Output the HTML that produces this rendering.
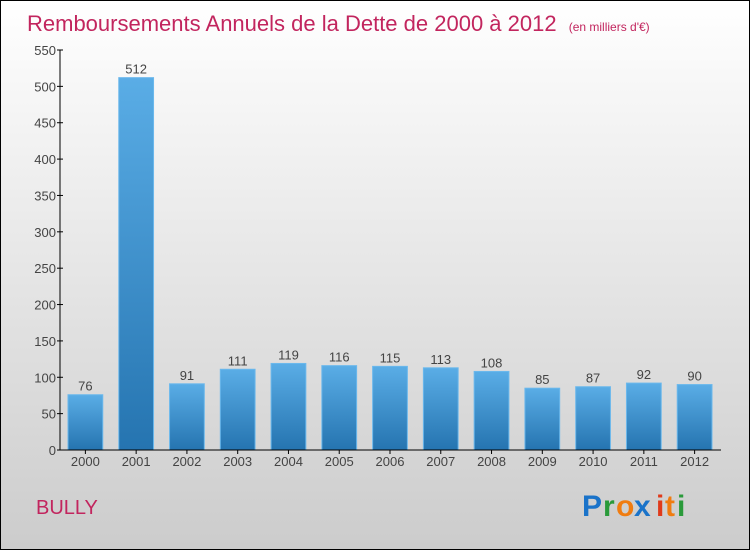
<!DOCTYPE html>
<html><head><meta charset="utf-8"><style>
html,body{margin:0;padding:0}
body{width:750px;height:550px;overflow:hidden;font-family:"Liberation Sans",sans-serif}
</style></head><body>
<svg width="750" height="550" xmlns="http://www.w3.org/2000/svg">
<defs>
<linearGradient id="bg" x1="0" y1="0" x2="0" y2="1"><stop offset="0" stop-color="#ffffff"/><stop offset="1" stop-color="#cccccc"/></linearGradient>
<linearGradient id="bar" x1="0" y1="0" x2="0" y2="1"><stop offset="0" stop-color="#5aade6"/><stop offset="1" stop-color="#2574b0"/></linearGradient>
</defs>
<rect x="0.5" y="0.5" width="749" height="549" fill="url(#bg)" stroke="#000"/>
<text x="27" y="31" font-size="22" fill="#c2255e">Remboursements Annuels de la Dette de 2000 à 2012 <tspan font-size="12" dx="6">(en milliers d'€)</tspan></text>
<g id="yaxis"></g>
<g id="bars"></g>
<g id="xaxis"></g>
<text x="36" y="514" font-size="20" fill="#c2255e">BULLY</text>
<g font-size="30" font-weight="bold">
<text x="582" y="516" fill="#1a73c9">P</text><text x="603" y="516" fill="#2a9a3a">r</text><text x="616" y="516" fill="#f07c10">o</text><text x="634" y="516" fill="#1a73c9">x</text><text x="656" y="516" fill="#e03a1a">i</text><text x="665" y="516" fill="#f07c10">t</text><text x="677" y="516" fill="#2a9a3a">i</text>
</g>
</svg>
<script>
const categories = ["2000","2001","2002","2003","2004","2005","2006","2007","2008","2009","2010","2011","2012"];
const values = [76,512,91,111,119,116,115,113,108,85,87,92,90];
const yTicks = [0,50,100,150,200,250,300,350,400,450,500,550];
const NS="http://www.w3.org/2000/svg";
const x0=60,x1=720,y0=450,y1=50,ymax=550;
const band=(x1-x0)/categories.length;
function ys(v){return y0-(v/ymax)*(y0-y1);}
function xs(i){return x0+i*band;}
function mk(tag,attrs,parent){const e=document.createElementNS(NS,tag);for(const k in attrs)e.setAttribute(k,attrs[k]);parent.appendChild(e);return e;}
const ya=document.getElementById('yaxis'),xa=document.getElementById('xaxis'),bg=document.getElementById('bars');
let l=mk('line',{x1:x0,y1:y0,x2:x0,y2:y1,stroke:'#000'},ya);


yTicks.forEach(t=>{
 const tk=mk('line',{x1:x0-3,x2:x0+3,y1:ys(t),y2:ys(t),stroke:'#000'},ya);
 
 
 const tx=mk('text',{x:x0-4,y:ys(t)+5,'text-anchor':'end','font-size':'13',fill:'#444'},ya);
 tx.textContent=t;
 
 
});
let xl=mk('line',{x1:x0,y1:y0,x2:x1+1,y2:y0,stroke:'#000'},xa);


categories.forEach((c,i)=>{
 const cx=xs(i)+band/2;
 const bx=xs(i)+8,bw=band-16;
 const r=mk('rect',{x:bx,y:ys(values[i]),width:bw,height:y0-ys(values[i]),fill:'url(#bar)',stroke:'#6bb8ec','stroke-width':'1'},bg);
 
 
 const v=mk('text',{x:cx,y:ys(values[i])-4,'text-anchor':'middle','font-size':'13',fill:'#444'},bg);
 v.textContent=values[i];
 
 
 const tk=mk('line',{x1:cx,x2:cx,y1:y0,y2:y0+4,stroke:'#000'},xa);
 
 
 const t=mk('text',{x:cx,y:y0+16,'text-anchor':'middle','font-size':'13',fill:'#444'},xa);
 t.textContent=c;
 
 
});
</script>
</body></html>
